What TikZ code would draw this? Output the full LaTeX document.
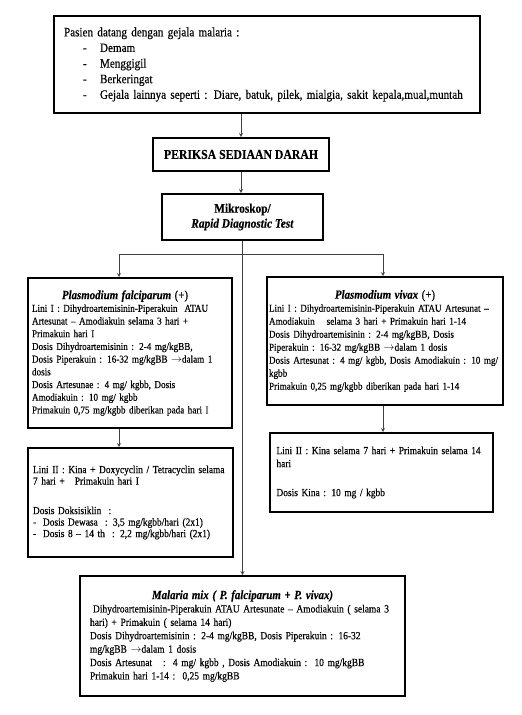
\documentclass[tikz,border=0pt]{standalone}
\usepackage{fontspec}
\setmainfont{Liberation Serif}[FakeStretch=0.87, FakeBold=0.3]
\usetikzlibrary{arrows, positioning, calc}
\newcommand{\titlesize}{\fontsize{12.5}{14}\selectfont}
\newcommand{\dashitem}[1]{\hspace*{19pt}\makebox[17pt][l]{-}#1}

\begin{document}
\begin{tikzpicture}[x=1pt, y=-1pt,
    box/.style={draw, line width=1.8pt, inner sep=3pt, align=left},
    line/.style={draw, line width=0.8pt, black!75},
    arrow/.style={line, -stealth}]
    \useasboundingbox (0,0) rectangle (522,715);

    % Draw symptom box
    \node[box, minimum width=426pt, minimum height=97pt, text width=406pt,
        font=\fontsize{12.8}{15.6}\selectfont] (gejala) at (267,64.5) {%
        Pasien datang dengan gejala malaria :\\
        \dashitem{Demam}\\
        \dashitem{Menggigil}\\
        \dashitem{Berkeringat}\\
        \dashitem{Gejala lainnya seperti : Diare, batuk, pilek, mialgia, sakit kepala,mual,muntah}};

    % Draw examination boxes
    \node[box, minimum width=176pt, minimum height=33pt,
        font=\bfseries\fontsize{13.5}{16}\selectfont] (periksa) at (241,154.5) {PERIKSA SEDIAAN DARAH};
    \node[box, align=center, minimum width=161pt, minimum height=46pt,
        font=\bfseries\fontsize{13}{15}\selectfont] (mikroskop) at (242.5,217) {Mikroskop/\\\textit{Rapid Diagnostic Test}};

    % Draw falciparum boxes
    \node[box, minimum width=204pt, minimum height=150pt, text width=196pt,
        font=\fontsize{10.5}{12.7}\selectfont] (falci) at (130,353) {%
        \makebox[\linewidth][c]{\hspace*{-10pt}\titlesize\textbf{\textit{Plasmodium falciparum}} (+)}\\
        Lini I : Dihydroartemisinin-Piperakuin\ \ ATAU\\
        Artesunat – Amodiakuin selama 3 hari +\\
        Primakuin hari I\\
        Dosis Dihydroartemisinin : 2-4 mg/kgBB,\\
        Dosis Piperakuin : 16-32 mg/kgBB $\rightarrow$dalam 1\\
        dosis\\
        Dosis Artesunae : 4 mg/ kgbb, Dosis\\
        Amodiakuin : 10 mg/ kgbb\\
        Primakuin 0,75 mg/kgbb diberikan pada hari I};
    \node[box, minimum width=205pt, minimum height=109pt, text width=195pt,
        font=\fontsize{10.8}{11.5}\selectfont] (falci2) at (130.5,502.5) {%
        Lini II : Kina + Doxycyclin / Tetracyclin selama\\
        7 hari +\hspace{10pt}Primakuin hari I\\[18pt]
        Dosis Doksisiklin\ \ :\\
        \makebox[10pt][l]{-}Dosis Dewasa\ \ : 3,5 mg/kgbb/hari (2x1)\\
        \makebox[10pt][l]{-}Dosis 8 – 14 th\ \ : 2,2 mg/kgbb/hari (2x1)};

    % Draw vivax boxes
    \node[box, inner xsep=0pt, minimum width=236pt, minimum height=128pt, text width=232pt,
        font=\fontsize{10.5}{13}\selectfont] (vivax) at (385,341) {%
        \makebox[\linewidth][c]{\titlesize\textbf{\textit{Plasmodium vivax}} (+)}\\
        Lini I : Dihydroartemisinin-Piperakuin ATAU Artesunat –\\
        Amodiakuin\hspace{12pt}selama 3 hari +\ Primakuin hari 1-14\\
        Dosis Dihydroartemisinin : 2-4 mg/kgBB, Dosis\\
        Piperakuin : 16-32 mg/kgBB $\rightarrow$dalam 1 dosis\\
        Dosis Artesunat : 4 mg/ kgbb, Dosis Amodiakuin : 10 mg/\\
        kgbb\\
        Primakuin 0,25 mg/kgbb diberikan pada hari 1-14};
    \node[box, minimum width=223pt, minimum height=79pt, text width=210pt,
        font=\fontsize{10.8}{13}\selectfont] (vivax2) at (381.5,472.5) {%
        Lini II : Kina selama 7 hari + Primakuin selama 14\\
        hari\\[16pt]
        Dosis Kina : 10 mg / kgbb};

    % Draw mixed infection box
    \node[box, minimum width=325pt, minimum height=120pt, text width=305pt,
        font=\fontsize{10.9}{13.4}\selectfont] (mix) at (242.5,636) {%
        \makebox[\linewidth][c]{\titlesize\textbf{\textit{Malaria mix ( P. falciparum + P. vivax)}}}\\
        \hspace*{3pt}Dihydroartemisinin-Piperakuin ATAU Artesunate – Amodiakuin ( selama 3\\
        hari) + Primakuin ( selama 14 hari)\\
        Dosis Dihydroartemisinin : 2-4 mg/kgBB, Dosis Piperakuin : 16-32\\
        mg/kgBB $\rightarrow$dalam 1 dosis\\
        Dosis Artesunat\ \ \ :\ \ 4 mg/ kgbb , Dosis Amodiakuin :\ \ 10 mg/kgBB\\
        Primakuin hari 1-14 :\ \ 0,25 mg/kgBB};

    % Draw connectors
    \coordinate (lsplit) at (119,254);
    \coordinate (rsplit) at (383,254);
    \draw[arrow] (periksa.north |- gejala.south) -- (periksa.north);
    \draw[arrow] (periksa.south) -- (periksa.south |- mikroskop.north);
    \draw[arrow] (mikroskop.south) -- (mikroskop.south |- mix.north);
    \draw[line] (lsplit) -- (rsplit);
    \draw[arrow] (lsplit) -- (lsplit |- falci.north);
    \draw[arrow] (rsplit) -- (rsplit |- vivax.north);
    \draw[arrow] (lsplit |- falci.south) -- (lsplit |- falci2.north);
    \draw[arrow] (rsplit |- vivax.south) -- (rsplit |- vivax2.north);
\end{tikzpicture}
\end{document}
